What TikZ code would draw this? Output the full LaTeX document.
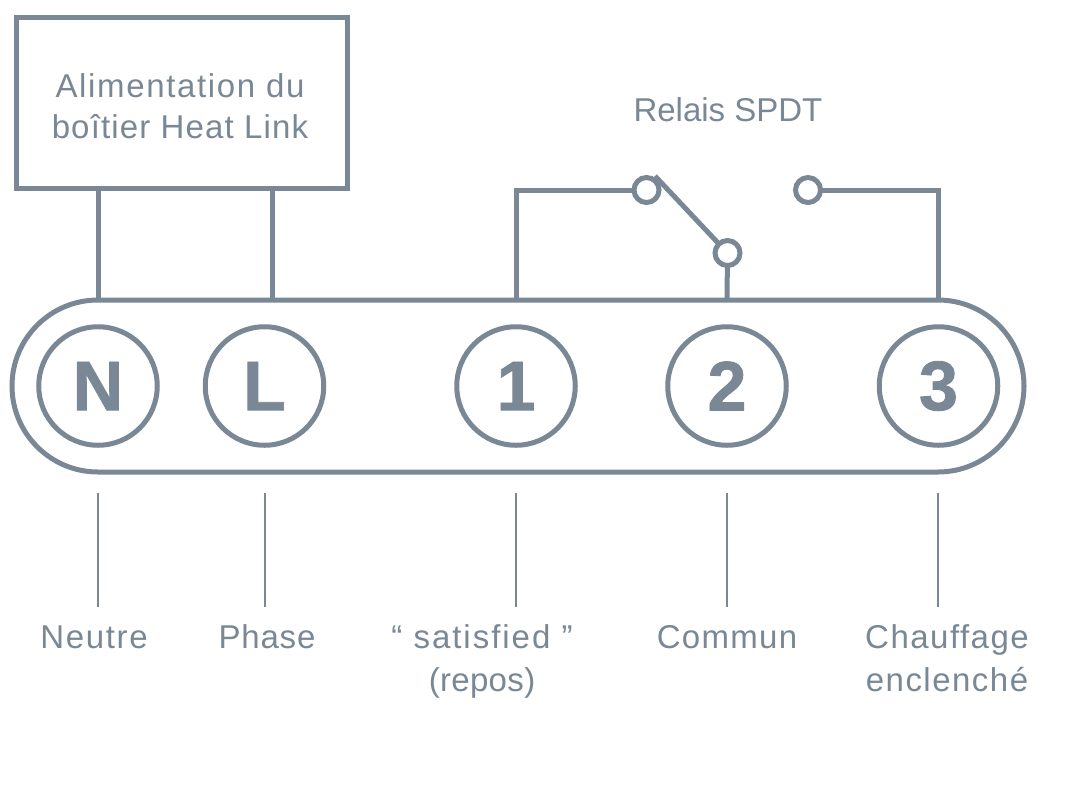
\documentclass[tikz,border=0pt]{standalone}
\usepackage{fontspec}
\setmainfont{Liberation Sans}
\definecolor{ink}{HTML}{7A8896}
\newcommand{\lsp}[1]{\addfontfeature{LetterSpace=#1}}
\tikzset{
 wire/.style={draw=ink,line width=5pt},
 thin wire/.style={draw=ink,line width=2pt},
 term/.style={circle,draw=ink,line width=5pt,minimum size=118.5pt,inner sep=0pt,text=ink,font=\fontsize{70}{70}\selectfont\bfseries\addfontfeature{FakeBold=1.2}},
 contact/.style={circle,draw=ink,fill=white,line width=5pt,minimum size=25pt,inner sep=0pt},
 lab/.style={text=ink,font=\fontsize{33}{43}\selectfont,align=center,inner sep=0pt},
 boxlab/.style={text=ink,font=\fontsize{33}{41}\selectfont,align=center,inner sep=0pt},
}
\begin{document}
\begin{tikzpicture}[x=1pt,y=-1pt]
\useasboundingbox[fill=white] (0,0) rectangle (1068,788);
\node[draw=ink,line width=5pt,minimum width=331pt,minimum height=171.5pt,inner sep=0pt] (box) at (182,103.2) {};
\node[boxlab] (boxt) at (180,106) {\lsp{5}Alimentation du\\\lsp{3.5}boîtier Heat Link};
\node[draw=ink,line width=5pt,rounded corners=86pt,minimum width=1012pt,minimum height=172pt,inner sep=0pt] (bar) at (518,386) {};
\node[term] (N) at (98,386) {N};
\node[term] (L) at (264.5,386) {L};
\node[term] (t1) at (516,386) {1};
\node[term] (t2) at (727,386) {2};
\node[term] (t3) at (938.5,386) {3};
\coordinate (bN) at (98,300); \coordinate (bL) at (272,300);
\coordinate (b1) at (516,300); \coordinate (b2) at (727,300); \coordinate (b3) at (938,300);
\coordinate (tN) at (98,189); \coordinate (tL) at (272,189);
\coordinate (arm) at (655,176);
\draw[wire] (tN) -- (bN);
\draw[wire] (tL) -- (bL);
\draw[wire] (arm) -- (727.5,253);
\draw[wire] (b1) |- (646,190);
\draw[wire] (b2) -- (727.5,253);
\draw[wire] (b3) |- (808,190);
\node[contact] (c1) at (646.5,190) {};
\node[contact] (c2) at (727.5,253) {};
\node[contact] (c3) at (808,190) {};
\node[lab] (relais) at (728,110) {Relais SPDT};
\node[lab] (lN) at (94,637) {\lsp{5}Neutre};
\node[lab] (lL) at (267,637) {\lsp{2.5}Phase};
\node[lab,anchor=north] (l1) at (482,624) {\lsp{6}“ satisfied ”\\\lsp{1}(repos)};
\node[lab] (l2) at (727,637) {\lsp{4}Commun};
\node[lab,anchor=north] (l3) at (947,624) {\lsp{4.5}Chauffage\\\lsp{4.5}enclenché};
\coordinate (sN) at (98,493); \coordinate (eN) at (98,607);
\coordinate (sL) at (264.5,493); \coordinate (eL) at (264.5,607);
\coordinate (s1) at (516,493); \coordinate (e1) at (516,607);
\coordinate (s2) at (727,493); \coordinate (e2) at (727,607);
\coordinate (s3) at (938,493); \coordinate (e3) at (938,607);
\draw[thin wire] (sN) -- (eN);
\draw[thin wire] (sL) -- (eL);
\draw[thin wire] (s1) -- (e1);
\draw[thin wire] (s2) -- (e2);
\draw[thin wire] (s3) -- (e3);
\end{tikzpicture}
\end{document}
